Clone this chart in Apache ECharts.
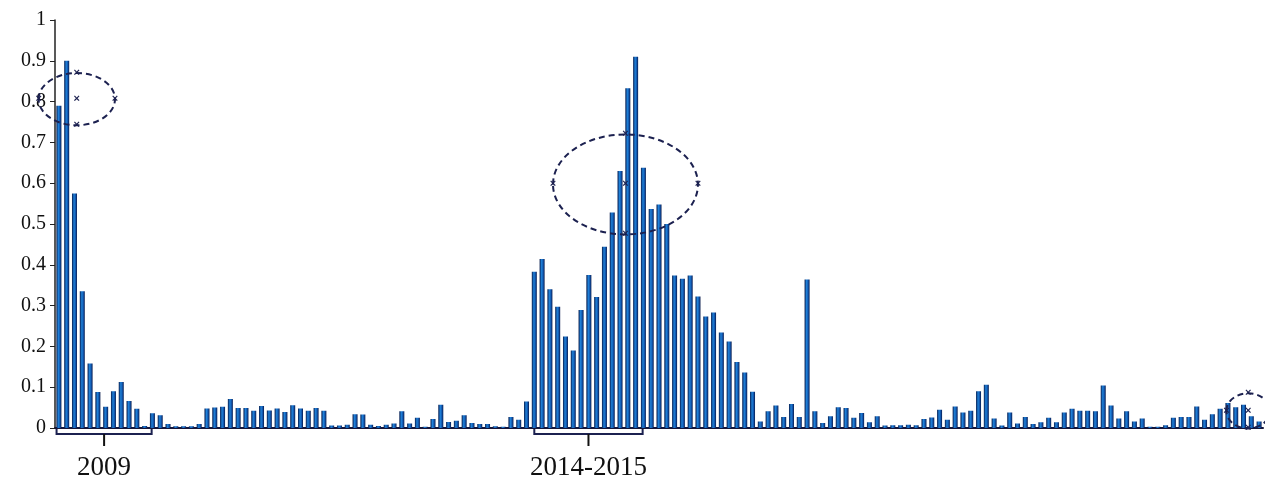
<!DOCTYPE html>
<html lang="en">
<head>
    <meta charset="utf-8">
    <title>index</title>
    <script src="https://cdn.jsdelivr.net/npm/echarts@6/dist/echarts.min.js"></script>
    <style>
        html, body { margin: 0; padding: 0; background: #fff; }
        #main { width: 1265px; height: 481px; }
    </style>
</head>
<body>
<div id="main"></div>
<script>
    // monthly values, starting Jan 2009
    var values = [
        0.79, 0.90, 0.575, 0.335, 0.158, 0.088, 0.052, 0.09, 0.113, 0.066, 0.047, 0.005,
        0.036, 0.031, 0.01, 0.004, 0.004, 0.004, 0.01, 0.048, 0.05, 0.052, 0.071, 0.049,
        0.049, 0.042, 0.054, 0.043, 0.048, 0.039, 0.056, 0.048, 0.042, 0.049, 0.042, 0.006,
        0.006, 0.008, 0.034, 0.033, 0.008, 0.005, 0.008, 0.011, 0.041, 0.011, 0.025, 0.003,
        0.022, 0.057, 0.015, 0.018, 0.031, 0.012, 0.01, 0.01, 0.004, 0.003, 0.027, 0.02,
        0.065, 0.383, 0.414, 0.34, 0.297, 0.224, 0.19, 0.289, 0.375, 0.321, 0.444, 0.528,
        0.63, 0.833, 0.91, 0.638, 0.537, 0.548, 0.50, 0.374, 0.366, 0.374, 0.322, 0.273,
        0.283, 0.234, 0.212, 0.162, 0.136, 0.089, 0.016, 0.041, 0.055, 0.027, 0.059, 0.027,
        0.364, 0.041, 0.012, 0.029, 0.051, 0.049, 0.025, 0.037, 0.014, 0.029, 0.006, 0.007,
        0.007, 0.008, 0.007, 0.022, 0.026, 0.045, 0.02, 0.053, 0.038, 0.042, 0.09, 0.106,
        0.023, 0.006, 0.038, 0.011, 0.027, 0.01, 0.014, 0.025, 0.014, 0.038, 0.047, 0.042,
        0.042, 0.041, 0.104, 0.055, 0.023, 0.041, 0.016, 0.023, 0.003, 0.003, 0.007, 0.025,
        0.027, 0.027, 0.053, 0.02, 0.034, 0.047, 0.061, 0.051, 0.057, 0.029, 0.016
    ];

    // category labels (one per month)
    var months = [];
    for (var i = 0; i < values.length; i++) {
        months.push((2009 + Math.floor(i / 12)) + '-' + (i % 12 + 1));
    }

    var yTicks = [0, 0.1, 0.2, 0.3, 0.4, 0.5, 0.6, 0.7, 0.8, 0.9, 1];

    // period brackets under the axis: label, first index, last index
    var periodNames = ['2009', '2014-2015'];
    var periodFrom = [-0.3, 61];
    var periodTo = [11.9, 74.9];

    // dashed rings: centre index, centre value, radius in categories, radius in value
    var ringCat = [2.3, 72.7, 152.6];
    var ringVal = [0.806, 0.597, 0.042];
    var ringRc = [4.9, 9.3, 2.8];
    var ringRv = [0.064, 0.1225, 0.043];

    var myChart = echarts.init(document.getElementById('main'));

    var option = {
        animation: false,
        grid: { left: 55, top: 20, width: 1208, height: 408 },
        xAxis: {
            type: 'category',
            data: months,
            axisLine: { lineStyle: { color: '#15163a', width: 2 } },
            axisTick: { show: false },
            axisLabel: { show: false }
        },
        yAxis: {
            type: 'value',
            min: yTicks[0],
            max: yTicks[yTicks.length - 1],
            interval: 0.1,
            splitLine: { show: false },
            axisLine: { show: true, lineStyle: { color: '#222', width: 1.5 } },
            axisTick: { show: true, length: 5, lineStyle: { color: '#222' } },
            axisLabel: {
                color: '#111',
                fontFamily: 'Liberation Serif',
                fontSize: 20,
                margin: 9,
                formatter: function (v) { return String(Math.round(v * 10) / 10); }
            }
        },
        series: [{
            type: 'bar',
            data: values,
            barWidth: 5,
            itemStyle: {
                color: {
                    type: 'linear', x: 0, y: 0, x2: 1, y2: 0,
                    colorStops: [
                        { offset: 0, color: '#061a4c' },
                        { offset: 0.4, color: '#1f82da' },
                        { offset: 0.7, color: '#1258b0' },
                        { offset: 1, color: '#05184a' }
                    ]
                }
            }
        }]
    };
    myChart.setOption(option);

    // fractional category index -> pixel
    function px(c, v) {
        var a = myChart.convertToPixel({ gridIndex: 0 }, [0, v]);
        var b = myChart.convertToPixel({ gridIndex: 0 }, [1, v]);
        return [a[0] + (b[0] - a[0]) * c, a[1]];
    }

    var ink = '#1c2150';
    var gfx = [];
    var base = px(0, 0);
    var axisY = base[1] + 1;

    for (var k = 0; k < periodNames.length; k++) {
        var x1 = px(periodFrom[k], 0)[0];
        var x2 = px(periodTo[k], 0)[0];
        var xm = (x1 + x2) / 2;
        gfx.push({
            type: 'polyline', z: 20,
            shape: { points: [[x1, axisY], [x1, axisY + 5], [x2, axisY + 5], [x2, axisY]] },
            style: { stroke: ink, lineWidth: 2, fill: null }
        });
        gfx.push({
            type: 'line', z: 20,
            shape: { x1: xm, y1: axisY + 5, x2: xm, y2: axisY + 17 },
            style: { stroke: '#111', lineWidth: 2 }
        });
        gfx.push({
            type: 'text', z: 20, x: xm, y: 468,
            style: {
                text: periodNames[k], fill: '#111',
                font: '27px "Liberation Serif"',
                align: 'center', verticalAlign: 'middle'
            }
        });
    }

    for (var r = 0; r < ringCat.length; r++) {
        var c = px(ringCat[r], ringVal[r]);
        var rx = px(ringCat[r] + ringRc[r], 0)[0] - c[0];
        var ry = px(0, 0)[1] - px(0, ringRv[r])[1];
        gfx.push({
            type: 'ellipse', z: 30,
            shape: { cx: c[0], cy: c[1], rx: rx, ry: ry },
            style: { fill: null, stroke: ink, lineWidth: 2, lineDash: [6, 4] }
        });
        var marks = [[0, 0], [0, -ry], [0, ry], [-rx, 0], [rx, 0]];
        for (var m = 0; m < marks.length; m++) {
            gfx.push({
                type: 'text', z: 31, x: c[0] + marks[m][0], y: c[1] + marks[m][1],
                style: {
                    text: '×', fill: ink, font: 'bold 11px sans-serif',
                    align: 'center', verticalAlign: 'middle'
                }
            });
        }
    }

    myChart.setOption({ graphic: gfx });
</script>
</body>
</html>
